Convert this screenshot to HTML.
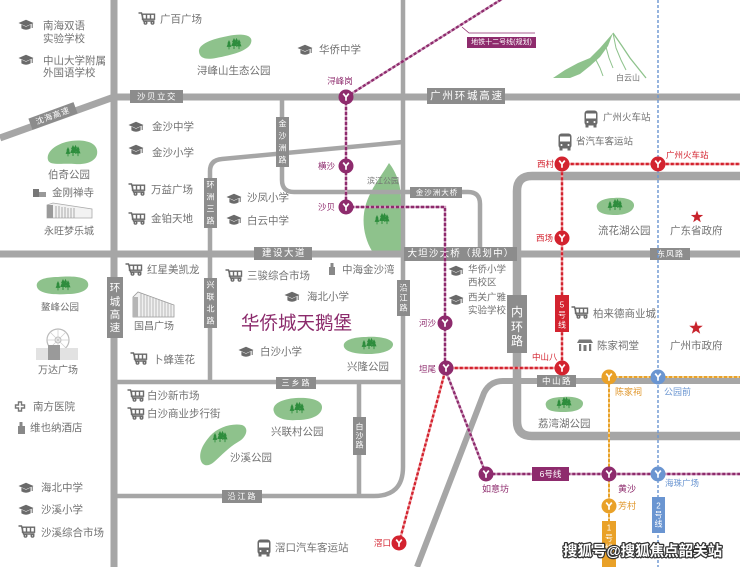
<!DOCTYPE html>
<html><head><meta charset="utf-8">
<style>
html,body{margin:0;padding:0;background:#fff;width:740px;height:567px;overflow:hidden;}
svg{display:block;}
text{font-family:"Liberation Sans","Noto Sans CJK SC",sans-serif;dominant-baseline:central;}
.t{fill:#727272;font-size:10.5px;}
.ts{fill:#727272;font-size:9.5px;}
.rl{fill:#fff;font-size:8.5px;text-anchor:middle;}
.pu{fill:#8e2b6d;font-size:8.5px;}
.re{fill:#d3232f;font-size:8.5px;}
.or{fill:#e0962a;font-size:9px;}
.bl{fill:#6a95d1;font-size:9px;}
</style></head><body>
<svg width="740" height="567" viewBox="0 0 740 567" xmlns="http://www.w3.org/2000/svg">
<defs>
 <g id="sch">
  <path d="M-7.5,-2 L0,-5.2 L7.5,-2 L0,1.2 Z" fill="#6a6a6a"/>
  <path d="M-4.6,-0.4 L-4.6,3.4 Q0,6 4.6,3.4 L4.6,-0.4 L0,1.8 Z" fill="#6a6a6a"/>
  <path d="M6.2,-1.6 L6.2,3" stroke="#6a6a6a" stroke-width="1"/>
 </g>
 <g id="cart" fill="none" stroke="#6a6a6a" stroke-width="1.4">
  <path d="M-8.5,-5 H-5.5 L-3.5,3 H7.5"/>
  <rect x="-4.5" y="-3.8" width="12" height="5"/>
  <path d="M-0.5,-3.8 V1.2 M3.5,-3.8 V1.2"/>
  <circle cx="-1.5" cy="4.8" r="1.3"/>
  <circle cx="5.5" cy="4.8" r="1.3"/>
 </g>
 <g id="bus">
  <rect x="-6.5" y="-8.5" width="13" height="15" rx="3" fill="#6a6a6a"/>
  <rect x="-5" y="-5.5" width="10" height="5" fill="#fff"/>
  <rect x="-5.5" y="6" width="3" height="2.5" fill="#6a6a6a"/>
  <rect x="2.5" y="6" width="3" height="2.5" fill="#6a6a6a"/>
  <circle cx="-3.5" cy="3" r="1" fill="#fff"/>
  <circle cx="3.5" cy="3" r="1" fill="#fff"/>
 </g>
 <g id="trees" fill="#2e8d3d">
  <polygon points="0,-7 2,-3 1.2,-3 2.8,1 0.5,1 0.5,4 -0.5,4 -0.5,1 -2.8,1 -1.2,-3 -2,-3"/>
  <polygon transform="translate(-5,1) scale(0.85)" points="0,-7 2,-3 1.2,-3 2.8,1 0.5,1 0.5,4 -0.5,4 -0.5,1 -2.8,1 -1.2,-3 -2,-3"/>
  <polygon transform="translate(5,0.5) scale(0.9)" points="0,-7 2,-3 1.2,-3 2.8,1 0.5,1 0.5,4 -0.5,4 -0.5,1 -2.8,1 -1.2,-3 -2,-3"/>
  <polygon transform="translate(2.5,-1.5) scale(0.8)" points="0,-7 2,-3 1.2,-3 2.8,1 0.5,1 0.5,4 -0.5,4 -0.5,1 -2.8,1 -1.2,-3 -2,-3"/>
 </g>
 <g id="stY"><path d="M-2.8,-3.4 L0,0 L2.8,-3.4 M0,0 V3.8" stroke="#fff" stroke-width="1.7" fill="none"/></g>
 <polygon id="star" points="0,-6.5 1.53,-2.1 6.18,-2.01 2.47,0.8 3.82,5.26 0,2.6 -3.82,5.26 -2.47,0.8 -6.18,-2.01 -1.53,-2.1" fill="#c8232c"/>
</defs>

<rect width="740" height="567" fill="#fff"/>

<!-- parks -->
<g fill="#8ec28c">
 <path d="M199,52 C198,44 212,39 228,36 C242,33 254,35 251,43 C248,51 232,55 216,58 C205,60 200,58 199,52 Z"/>
 <path d="M48,160 C46,152 55,145 66,142 C78,139 95,140 97,150 C99,160 88,165 75,164 C62,163 50,166 48,160 Z"/>
 <path d="M37,287 C35,280 45,277 58,277 C70,276 86,276 88,283 C90,290 80,294 68,294 C55,295 39,294 37,287 Z"/>
 <path d="M201,461 C198,452 204,443 210,436 C218,427 232,423 242,425 C250,428 246,438 238,442 C228,448 222,455 214,462 C208,467 203,466 201,461 Z"/>
 <path d="M274,412 C271,404 282,399 296,398 C310,397 323,400 322,408 C321,416 310,420 297,420 C285,421 276,418 274,412 Z"/>
 <path d="M344,347 C342,341 352,337 366,337 C380,336 394,339 393,345 C392,351 381,354 368,354 C356,354 346,352 344,347 Z"/>
 <path d="M597,208 C595,202 604,198 614,198 C625,197 635,200 634,206 C633,212 625,215 615,215 C605,215 598,213 597,208 Z"/>
 <path d="M546,406 C544,400 552,397 563,397 C574,396 584,399 583,404 C582,410 574,412 564,412 C554,412 547,411 546,406 Z"/>
 <path d="M389,163 C396,172 401,184 401,200 L401,251 L372,251 C364,238 361,220 366,204 C371,188 382,175 389,163 Z"/>
</g>
<use href="#trees" x="234" y="45"/>
<use href="#trees" x="73" y="152"/>
<use href="#trees" x="63" y="286"/>
<use href="#trees" x="220" y="438"/>
<use href="#trees" x="297" y="409"/>
<use href="#trees" x="369" y="345"/>
<use href="#trees" x="615" y="206"/>
<use href="#trees" x="564" y="404"/>
<use href="#trees" x="382" y="220"/>

<!-- mountain -->
<polygon points="553,78 565,70 578,63 590,58 600,48 613,33 608,46 600,57 590,66 580,74 570,78" fill="#8ec28c"/>
<polyline points="613,33 622,46 630,58 638,68 646,78" fill="none" stroke="#8ec28c" stroke-width="1.3"/>
<polyline points="613,33 616,48 621,60 626,70" fill="none" stroke="#8ec28c" stroke-width="1"/>
<polyline points="606,47 609,58 613,68" fill="none" stroke="#8ec28c" stroke-width="1"/>
<polyline points="596,60 600,68 603,76" fill="none" stroke="#8ec28c" stroke-width="1"/>

<!-- roads -->
<g fill="none" stroke="#a6a6a6" stroke-linejoin="round">
 <g stroke-width="4.5">
  <path d="M403,0 V467 Q403,496 374,496 H114"/>
  <path d="M114,382 H403"/>
  <path d="M359,382 V496"/>
  <path d="M210,382 V171 Q210,160 222,159 L403,142"/>
  <path d="M282,97 V180 Q282,192 294,192 H468 Q480,192 480,204 V254"/>
 </g>
 <g stroke-width="7">
  <path d="M114,0 V567"/>
  <path d="M0,138 L114,97"/>
  <path d="M114,97 H740"/>
  <path d="M0,254 H740"/>
  <path d="M740,381 H503 Q490,381 484,393 L417,567" stroke-width="6"/>
 </g>
 <path d="M740,176 H532 Q517,176 517,191 V421 Q517,436 532,436 H740" stroke-width="8.5"/>
</g>

<!-- road labels -->
<g fill="#8c8c8c">
 <rect x="130" y="90" width="53" height="13"/>
 <rect x="427" y="88" width="78" height="16"/>
 <rect x="276" y="117" width="13" height="50"/>
 <rect x="204" y="178" width="13" height="50"/>
 <rect x="410" y="187" width="52" height="11"/>
 <rect x="254" y="247" width="58" height="13"/>
 <rect x="404" y="247" width="113" height="14"/>
 <rect x="650" y="248" width="40" height="12"/>
 <rect x="107" y="277" width="16" height="61"/>
 <rect x="204" y="278" width="13" height="50"/>
 <rect x="397" y="280" width="13" height="36"/>
 <rect x="507" y="295" width="20" height="58"/>
 <rect x="537" y="375" width="39" height="12"/>
 <rect x="276" y="377" width="40" height="12"/>
 <rect x="353" y="417" width="13" height="38"/>
 <rect x="222" y="490" width="40" height="13"/>
 <rect x="29" y="110" width="48" height="12" transform="rotate(-20 53 116)"/>
</g>
<text class="rl" x="157" y="96.5" style="letter-spacing:1.5px">沙贝立交</text>
<text class="rl" x="467" y="96" style="font-size:10.5px;letter-spacing:1.8px">广州环城高速</text>
<text class="rl" x="53" y="116" transform="rotate(-20 53 116)" style="font-size:8px;letter-spacing:1px">沈海高速</text>
<g class="rl" style="font-size:8px">
 <text x="282.5" y="124">金</text><text x="282.5" y="136">沙</text><text x="282.5" y="148">洲</text><text x="282.5" y="160">路</text>
 <text x="210.5" y="185">环</text><text x="210.5" y="197">洲</text><text x="210.5" y="209">三</text><text x="210.5" y="221">路</text>
 <text x="210.5" y="285">兴</text><text x="210.5" y="297">联</text><text x="210.5" y="309">北</text><text x="210.5" y="321">路</text>
 <text x="403.5" y="288">沿</text><text x="403.5" y="298">江</text><text x="403.5" y="308">路</text>
 <text x="359.5" y="427">白</text><text x="359.5" y="436">沙</text><text x="359.5" y="445">路</text>
</g>
<g class="rl" style="font-size:10.5px">
 <text x="115" y="288">环</text><text x="115" y="302">城</text><text x="115" y="315">高</text><text x="115" y="328">速</text>
</g>
<g class="rl" style="font-size:12px">
 <text x="517" y="312">内</text><text x="517" y="327">环</text><text x="517" y="341">路</text>
</g>
<text class="rl" x="437" y="192.5" style="font-size:7.5px;letter-spacing:1px">金沙洲大桥</text>
<text class="rl" x="284" y="253.5" style="font-size:9.5px;letter-spacing:1.5px">建设大道</text>
<text class="rl" x="461" y="254" style="font-size:9.5px;letter-spacing:1.2px">大坦沙大桥（规划中）</text>
<text class="rl" x="670.5" y="254" style="font-size:8px;letter-spacing:1px">东风路</text>
<text class="rl" x="557" y="381" style="letter-spacing:1.5px">中山路</text>
<text class="rl" x="296.5" y="383" style="font-size:8px;letter-spacing:2px">三乡路</text>
<text class="rl" x="242.5" y="496.5" style="font-size:8px;letter-spacing:2px">沿江路</text>

<!-- metro lines -->
<g fill="none" stroke-width="2.4">
 <path d="M346,97 L502,-1" stroke="#cf9cbd"/>
 <path d="M346,97 L502,-1" stroke="#8e2b6d" stroke-dasharray="3 2"/>
 <path d="M346,97 V207 H445 V369 L486,474 H740" stroke="#cf9cbd"/>
 <path d="M346,97 V207 H445 V369 L486,474 H740" stroke="#8e2b6d" stroke-dasharray="3 2"/>
 <path d="M399,543 L446,368 H562 V164 H740" stroke="#efa0a4"/>
 <path d="M399,543 L446,368 H562 V164 H740" stroke="#d3232f" stroke-dasharray="3 2"/>
 <path d="M609,567 V377 H740" stroke="#f3d08f" stroke-width="2"/>
 <path d="M609,567 V377 H740" stroke="#e9a128" stroke-width="2" stroke-dasharray="3 2"/>
 <path d="M658,0 V567" stroke="#6a95d1" stroke-width="1.4" stroke-dasharray="3 2"/>
</g>
<!-- line 12 leader & label -->
<path d="M462,27 L469,33 H535" fill="none" stroke="#8e2b6d" stroke-width="0.8"/>
<rect x="467" y="37" width="69" height="11" fill="#8e2b6d"/>
<text class="rl" x="501.5" y="42.5" style="font-size:7px">地铁十二号线(规划)</text>

<!-- line boxes -->
<rect x="555" y="295" width="14" height="37" fill="#d3232f"/>
<g class="rl" style="font-size:8px"><text x="562" y="305">5</text><text x="562" y="315">号</text><text x="562" y="325">线</text></g>
<rect x="532" y="467" width="37" height="14" fill="#8e2b6d"/>
<text class="rl" x="550.5" y="474" style="font-size:8.5px">6号线</text>
<rect x="602" y="521" width="14" height="46" fill="#e9a128"/>
<g class="rl" style="font-size:8px"><text x="609" y="528">1</text><text x="609" y="538">号</text><text x="609" y="548">线</text></g>
<rect x="652" y="497" width="13" height="36" fill="#6a95d1"/>
<g class="rl" style="font-size:8px"><text x="658.5" y="506">2</text><text x="658.5" y="515">号</text><text x="658.5" y="524">线</text></g>

<!-- stations -->
<g fill="#8e2b6d">
 <circle cx="346" cy="97" r="7.5"/><circle cx="346" cy="166" r="7.5"/><circle cx="346" cy="207" r="7.5"/>
 <circle cx="445" cy="323" r="7.5"/><circle cx="446" cy="368" r="7.5"/><circle cx="486" cy="474" r="7.5"/>
 <circle cx="609" cy="474" r="7.5"/>
</g>
<g fill="#d3232f">
 <circle cx="562" cy="164" r="7.5"/><circle cx="658" cy="164" r="7.5"/><circle cx="562" cy="238" r="7.5"/>
 <circle cx="562" cy="368" r="7.5"/><circle cx="399" cy="543" r="7.5"/>
</g>
<g fill="#e9a128"><circle cx="609" cy="377" r="7.5"/><circle cx="609" cy="506" r="7.5"/></g>
<g fill="#6a95d1"><circle cx="658" cy="377" r="7.5"/><circle cx="658" cy="474" r="7.5"/></g>
<use href="#stY" x="346" y="97"/><use href="#stY" x="346" y="166"/><use href="#stY" x="346" y="207"/>
<use href="#stY" x="445" y="323"/><use href="#stY" x="446" y="368"/><use href="#stY" x="486" y="474"/>
<use href="#stY" x="609" y="474"/><use href="#stY" x="562" y="164"/><use href="#stY" x="658" y="164"/>
<use href="#stY" x="562" y="238"/><use href="#stY" x="562" y="368"/><use href="#stY" x="399" y="543"/>
<use href="#stY" x="609" y="377"/><use href="#stY" x="609" y="506"/><use href="#stY" x="658" y="377"/>
<use href="#stY" x="658" y="474"/>

<!-- station labels -->
<text class="pu" x="340" y="81" text-anchor="middle">浔峰岗</text>
<text class="pu" x="335" y="166" text-anchor="end">横沙</text>
<text class="pu" x="335" y="207" text-anchor="end">沙贝</text>
<text class="pu" x="436" y="323" text-anchor="end">河沙</text>
<text class="pu" x="436" y="369" text-anchor="end">坦尾</text>
<text class="pu" x="482" y="489" style="font-size:9px">如意坊</text>
<text class="pu" x="618" y="489" style="font-size:9px">黄沙</text>
<text class="re" x="391" y="543" text-anchor="end">滘口</text>
<text class="re" x="537" y="164">西村</text>
<text class="re" x="536" y="238">西场</text>
<text class="re" x="532" y="357">中山八</text>
<text class="re" x="666" y="155">广州火车站</text>
<text class="or" x="615" y="392">陈家祠</text>
<text class="or" x="618" y="506">芳村</text>
<text class="bl" x="664" y="392">公园前</text>
<text class="bl" x="665" y="483" style="font-size:8.5px">海珠广场</text>

<!-- icons -->
<use href="#sch" x="26" y="25"/><use href="#sch" x="26" y="60"/><use href="#sch" x="305" y="50"/>
<use href="#sch" x="136" y="127"/><use href="#sch" x="136" y="150"/><use href="#sch" x="234" y="199"/>
<use href="#sch" x="234" y="220"/><use href="#sch" x="292" y="297"/><use href="#sch" x="246" y="352"/>
<use href="#sch" x="456" y="271"/><use href="#sch" x="456" y="300"/><use href="#sch" x="26" y="488"/>
<use href="#sch" x="26" y="510"/>
<use href="#cart" x="147" y="18"/><use href="#cart" x="137" y="189"/><use href="#cart" x="137" y="218"/>
<use href="#cart" x="134" y="269"/><use href="#cart" x="139" y="358"/><use href="#cart" x="234" y="275"/>
<use href="#cart" x="580" y="312"/><use href="#cart" x="136" y="395"/><use href="#cart" x="136" y="413"/>
<use href="#cart" x="27" y="531"/>
<use href="#bus" x="591" y="119"/><use href="#bus" x="565" y="142"/><use href="#bus" x="264" y="548"/>
<use href="#star" x="697" y="217"/><use href="#star" x="696" y="328" transform="translate(696 328) scale(1.1) translate(-696 -328)"/>

<!-- buildings -->
<rect x="33" y="189" width="6" height="8" fill="#777"/><rect x="39" y="192" width="7" height="5" fill="#999"/>
<g>
 <polygon points="47,205 53,203 92,209 92,218 47,218" fill="#f2f2f2" stroke="#aaa" stroke-width="0.8"/>
 <rect x="47" y="205" width="6" height="13" fill="#9a9a9a"/>
 <path d="M56,206 V218 M59,206 V218 M62,207 V218 M65,207 V218 M68,208 V218 M71,208 V218 M74,208 V218" stroke="#999" stroke-width="0.8"/>
</g>
<g>
 <polygon points="133,297 138,292 174,305 174,317 133,317" fill="#f0f0f0" stroke="#999" stroke-width="0.8"/>
 <rect x="133" y="297" width="5" height="20" fill="#b5b5b5"/>
 <path d="M141,293 V317 M144,294 V317 M147,295 V317 M150,297 V317 M153,298 V317 M156,299 V317 M159,300 V317 M162,301 V317 M165,302 V317 M168,303 V317 M171,304 V317" stroke="#aaa" stroke-width="0.8"/>
</g>
<g>
 <circle cx="58" cy="340" r="11" fill="none" stroke="#bbb" stroke-width="1.2"/>
 <circle cx="58" cy="340" r="3" fill="none" stroke="#bbb" stroke-width="1"/>
 <path d="M47,340 H69 M58,329 V351 M50,332 L66,348 M66,332 L50,348" stroke="#ccc" stroke-width="0.7"/>
 <rect x="36" y="348" width="42" height="12" fill="#e2e2e2"/>
 <rect x="48" y="345" width="12" height="15" fill="#9a9a9a"/>
</g>
<path d="M18.5,402 h3 v3 h3 v3 h-3 v3 h-3 v-3 h-3 v-3 h3 z" fill="none" stroke="#777" stroke-width="1.4"/>
<rect x="18" y="426" width="7" height="8" fill="#888"/><rect x="19.5" y="422" width="3" height="4" fill="#888"/>
<rect x="329" y="267" width="6" height="8" fill="#888"/><rect x="330.5" y="263" width="3" height="4" fill="#888"/>
<g fill="#777">
 <polygon points="577,343 593,343 591,339.5 579,339.5"/>
 <rect x="579" y="344" width="2.2" height="7"/><rect x="589" y="344" width="2.2" height="7"/>
 <rect x="583.5" y="345" width="3" height="6"/>
</g>

<!-- POI texts -->
<text class="t" x="43" y="26">南海双语</text><text class="t" x="43" y="39">实验学校</text>
<text class="t" x="43" y="61">中山大学附属</text><text class="t" x="43" y="73">外国语学校</text>
<text class="t" x="160" y="19.5">广百广场</text>
<text class="t" x="197" y="71">浔峰山生态公园</text>
<text class="t" x="319" y="50">华侨中学</text>
<text class="t" x="616" y="78" style="font-size:8px">白云山</text>
<text class="ts" x="603" y="118">广州火车站</text>
<text class="ts" x="576" y="142">省汽车客运站</text>
<text class="t" x="152" y="127">金沙中学</text>
<text class="t" x="152" y="153">金沙小学</text>
<text class="t" x="48" y="175">伯奇公园</text>
<text class="t" x="52" y="193">金刚禅寺</text>
<text class="t" x="44" y="232" style="font-size:10px">永旺梦乐城</text>
<text class="t" x="151" y="190">万益广场</text>
<text class="t" x="151" y="219">金铂天地</text>
<text class="t" x="247" y="198">沙凤小学</text>
<text class="t" x="247" y="221">白云中学</text>
<text class="t" x="147" y="270">红星美凯龙</text>
<text class="t" x="134" y="327" style="font-size:10px">国昌广场</text>
<text class="t" x="153" y="360">卜蜂莲花</text>
<text class="t" x="41" y="308" style="font-size:9.5px">鳌峰公园</text>
<text class="t" x="38" y="371" style="font-size:10px">万达广场</text>
<text class="t" x="33" y="407">南方医院</text>
<text class="t" x="30" y="428">维也纳酒店</text>
<text class="t" x="41" y="488">海北中学</text>
<text class="t" x="41" y="510">沙溪小学</text>
<text class="t" x="41" y="533">沙溪综合市场</text>
<text class="t" x="247" y="276">三骏综合市场</text>
<text class="t" x="342" y="270">中海金沙湾</text>
<text class="t" x="307" y="297">海北小学</text>
<text class="t" x="260" y="352">白沙小学</text>
<text class="t" x="347" y="367">兴隆公园</text>
<text class="t" x="367" y="181" style="font-size:8px">滨江公园</text>
<text class="ts" x="468" y="270">华侨小学</text><text class="ts" x="468" y="283">西校区</text>
<text class="ts" x="468" y="298">西关广雅</text><text class="ts" x="468" y="311">实验学校</text>
<text class="t" x="598" y="231">流花湖公园</text>
<text class="t" x="670" y="231">广东省政府</text>
<text class="t" x="593" y="314">柏来德商业城</text>
<text class="t" x="597" y="346">陈家祠堂</text>
<text class="t" x="670" y="346">广州市政府</text>
<text class="t" x="538" y="424">荔湾湖公园</text>
<text class="t" x="147" y="396">白沙新市场</text>
<text class="t" x="147" y="414">白沙商业步行街</text>
<text class="t" x="230" y="458">沙溪公园</text>
<text class="t" x="271" y="432">兴联村公园</text>
<text class="t" x="275" y="548">滘口汽车客运站</text>

<text x="241" y="323" style="fill:#8b2a6b;font-size:18.5px">华侨城天鹅堡</text>

<!-- watermark -->
<text x="563" y="552" style="fill:#fff;font-size:14.5px;font-weight:bold;stroke:#333;stroke-width:2.5px;paint-order:stroke;stroke-linejoin:round">搜狐号@搜狐焦点韶关站</text>
</svg>
</body></html>
